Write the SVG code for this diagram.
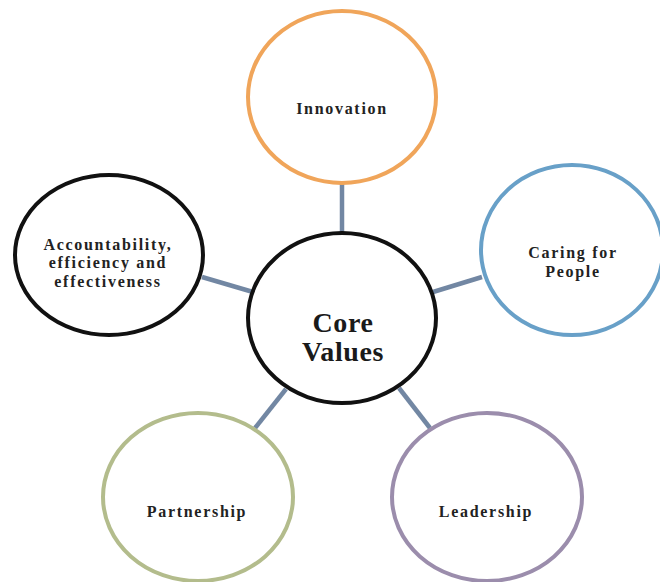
<svg xmlns="http://www.w3.org/2000/svg" width="660" height="582" viewBox="0 0 660 582">
<style>
.n{fill:#fff;stroke-width:4}
.t{font-family:"Liberation Serif","Times New Roman",serif;font-weight:bold;font-size:16px;fill:#222;text-anchor:middle;letter-spacing:1.7px}
.c{font-size:28px;letter-spacing:0.6px;fill:#1a1a1a}
#connectors line{stroke:#7287a3;stroke-width:4.5}
</style>
<rect width="660" height="582" fill="#fff"/>
<g id="connectors">
<line x1="342" y1="183" x2="342" y2="234"/>
<line x1="202" y1="277" x2="253" y2="292"/>
<line x1="433" y1="292" x2="482" y2="277"/>
<line x1="286" y1="389" x2="255" y2="428"/>
<line x1="399" y1="388" x2="430" y2="428"/>
</g>
<g id="innovation">
<ellipse class="n" cx="342" cy="97" rx="94" ry="86" stroke="#f0a55a"/>
<text class="t" x="342" y="114">Innovation</text>
</g>
<g id="caring">
<ellipse class="n" cx="572" cy="250" rx="91" ry="85" stroke="#68a0c8"/>
<text class="t" x="573" y="258">Caring for</text>
<text class="t" x="573" y="277">People</text>
</g>
<g id="accountability">
<ellipse class="n" cx="109" cy="255" rx="94" ry="80" stroke="#111"/>
<text class="t" x="108" y="250">Accountability,</text>
<text class="t" x="108" y="268">efficiency and</text>
<text class="t" x="108" y="287">effectiveness</text>
</g>
<g id="partnership">
<ellipse class="n" cx="198" cy="497" rx="95" ry="84" stroke="#b3bc8c"/>
<text class="t" x="197" y="517">Partnership</text>
</g>
<g id="leadership">
<ellipse class="n" cx="487" cy="497" rx="95" ry="84" stroke="#9b8dac"/>
<text class="t" x="486" y="517">Leadership</text>
</g>
<g id="core">
<ellipse class="n" cx="342" cy="318" rx="94" ry="85" stroke="#111"/>
<text class="t c" x="343" y="332">Core</text>
<text class="t c" x="343" y="361">Values</text>
</g>
</svg>
